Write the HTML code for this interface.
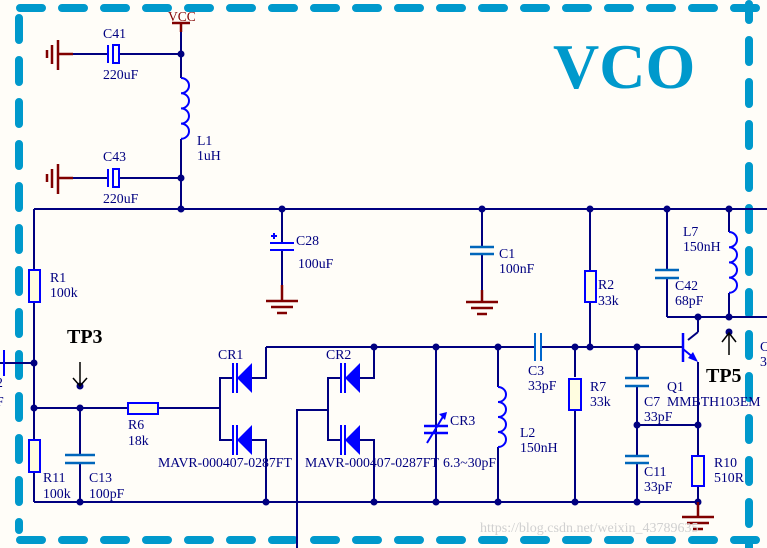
<!DOCTYPE html>
<html><head><meta charset="utf-8"><style>
html,body{margin:0;padding:0;background:#fffdf8;}
svg{display:block;}
text{font-family:"Liberation Serif",serif;}
</style></head><body>
<svg width="767" height="548" viewBox="0 0 767 548" xmlns="http://www.w3.org/2000/svg">
<rect width="767" height="548" fill="#fffdf8"/>
<g stroke="#0099cc" stroke-width="8" stroke-linecap="round" fill="none" stroke-dasharray="22 20">
<line x1="20" y1="8" x2="767" y2="8"/>
<line x1="19" y1="18" x2="19" y2="530"/>
<line x1="20" y1="540" x2="767" y2="540"/>
<line x1="749" y1="4" x2="749" y2="548" stroke-dashoffset="6"/>
</g>
<text x="553" y="88" font-size="64" font-weight="bold" fill="#0099cc">VCO</text>

<g stroke="#000080" stroke-width="2" fill="none">
<line x1="181" y1="30" x2="181" y2="78"/>
<line x1="58" y1="54" x2="108" y2="54"/>
<line x1="118" y1="54" x2="181" y2="54"/>
<line x1="58" y1="178" x2="108" y2="178"/>
<line x1="118" y1="178" x2="181" y2="178"/>
<line x1="181" y1="139" x2="181" y2="209"/>
<line x1="34" y1="209" x2="767" y2="209"/>
<line x1="34" y1="209" x2="34" y2="270"/>
<line x1="34" y1="302" x2="34" y2="440"/>
<line x1="34" y1="472" x2="34" y2="502"/>
<line x1="0" y1="363" x2="34" y2="363"/>
<line x1="34" y1="408" x2="128" y2="408"/>
<line x1="158" y1="408" x2="220" y2="408"/>
<line x1="80" y1="408" x2="80" y2="455"/>
<line x1="80" y1="463" x2="80" y2="502"/>
<line x1="34" y1="502" x2="698" y2="502"/>
<line x1="282" y1="209" x2="282" y2="243"/>
<line x1="282" y1="250" x2="282" y2="300"/>
<line x1="482" y1="209" x2="482" y2="247"/>
<line x1="482" y1="254" x2="482" y2="302"/>
<line x1="590" y1="209" x2="590" y2="347"/>
<line x1="667" y1="209" x2="667" y2="270"/>
<line x1="667" y1="278" x2="667" y2="317"/>
<line x1="729" y1="209" x2="729" y2="232"/>
<line x1="729" y1="293" x2="729" y2="317"/>
<line x1="667" y1="317" x2="767" y2="317"/>
<line x1="698" y1="317" x2="698" y2="332"/>
<line x1="688" y1="340" x2="698" y2="332"/>
<line x1="698" y1="362" x2="698" y2="456"/>
<line x1="698" y1="486" x2="698" y2="502"/>
<line x1="637" y1="425" x2="698" y2="425"/>
<line x1="266" y1="347" x2="534" y2="347"/>
<line x1="541" y1="347" x2="683" y2="347"/>
<line x1="575" y1="347" x2="575" y2="377"/>
<line x1="575" y1="410" x2="575" y2="502"/>
<line x1="637" y1="347" x2="637" y2="378"/>
<line x1="637" y1="386" x2="637" y2="456"/>
<line x1="637" y1="463" x2="637" y2="502"/>
<line x1="436" y1="347" x2="436" y2="502"/>
<line x1="498" y1="347" x2="498" y2="387"/>
<line x1="498" y1="447" x2="498" y2="502"/>
<polyline points="232,378 220,378 220,440 232,440"/>
<polyline points="252,378 266,378 266,347"/>
<polyline points="252,440 266,440 266,502"/>
<polyline points="297,548 297,410 328,410"/>
<polyline points="340,378 328,378 328,440 340,440"/>
<polyline points="360,378 374,378 374,347"/>
<polyline points="360,440 374,440 374,502"/>
</g>

<g fill="#000080">
<circle cx="181" cy="54" r="3.5"/><circle cx="181" cy="178" r="3.5"/><circle cx="181" cy="209" r="3.5"/>
<circle cx="282" cy="209" r="3.5"/><circle cx="482" cy="209" r="3.5"/><circle cx="590" cy="209" r="3.5"/>
<circle cx="667" cy="209" r="3.5"/><circle cx="729" cy="209" r="3.5"/>
<circle cx="698" cy="317" r="3.5"/><circle cx="729" cy="317" r="3.5"/><circle cx="729" cy="332" r="3.5"/>
<circle cx="34" cy="363" r="3.5"/><circle cx="34" cy="408" r="3.5"/><circle cx="80" cy="408" r="3.5"/><circle cx="80" cy="386" r="3.5"/>
<circle cx="80" cy="502" r="3.5"/><circle cx="266" cy="502" r="3.5"/><circle cx="374" cy="502" r="3.5"/>
<circle cx="374" cy="347" r="3.5"/><circle cx="436" cy="347" r="3.5"/><circle cx="498" cy="347" r="3.5"/>
<circle cx="575" cy="347" r="3.5"/><circle cx="590" cy="347" r="3.5"/><circle cx="637" cy="347" r="3.5"/>
<circle cx="436" cy="502" r="3.5"/><circle cx="498" cy="502" r="3.5"/><circle cx="575" cy="502" r="3.5"/>
<circle cx="637" cy="502" r="3.5"/><circle cx="698" cy="502" r="3.5"/><circle cx="637" cy="425" r="3.5"/><circle cx="698" cy="425" r="3.5"/>
</g>

<g stroke="#800000" stroke-width="2.5" fill="none">
<line x1="172" y1="23" x2="190" y2="23"/><line x1="181" y1="23" x2="181" y2="32"/>
<line x1="58" y1="54" x2="73" y2="54"/><line x1="58" y1="40" x2="58" y2="70"/><line x1="52" y1="45" x2="52" y2="64"/><line x1="47" y1="50" x2="47" y2="58"/>
<line x1="58" y1="178" x2="73" y2="178"/><line x1="58" y1="164" x2="58" y2="194"/><line x1="52" y1="169" x2="52" y2="188"/><line x1="47" y1="174" x2="47" y2="182"/>
<line x1="282" y1="285" x2="282" y2="301"/><line x1="266" y1="301" x2="298" y2="301"/><line x1="271" y1="307" x2="293" y2="307"/><line x1="277" y1="313" x2="287" y2="313"/>
<line x1="482" y1="290" x2="482" y2="302"/><line x1="466" y1="302" x2="498" y2="302"/><line x1="471" y1="308" x2="493" y2="308"/><line x1="477" y1="314" x2="487" y2="314"/>
<line x1="698" y1="502" x2="698" y2="517"/><line x1="682" y1="517" x2="714" y2="517"/><line x1="687" y1="523" x2="709" y2="523"/><line x1="693" y1="529" x2="703" y2="529"/>
</g>
<text x="168" y="21" font-size="13.5" fill="#800000">VCC</text>

<g stroke="#0000ff" stroke-width="2" fill="none">
<line x1="108" y1="45" x2="108" y2="63"/><rect x="113" y="45" width="6" height="18"/>
<line x1="108" y1="169" x2="108" y2="187"/><rect x="113" y="169" width="6" height="18"/>
<path d="M181,78 a8,7.6 0 0 1 0,15.2 a8,7.6 0 0 1 0,15.2 a8,7.6 0 0 1 0,15.2 a8,7.6 0 0 1 0,15.2"/>
<path d="M729,232 a8,7.6 0 0 1 0,15.2 a8,7.6 0 0 1 0,15.2 a8,7.6 0 0 1 0,15.2 a8,7.6 0 0 1 0,15.2"/>
<path d="M498,387 a8,7.5 0 0 1 0,15 a8,7.5 0 0 1 0,15 a8,7.5 0 0 1 0,15 a8,7.5 0 0 1 0,15"/>
<line x1="270" y1="243" x2="294" y2="243"/><line x1="270" y1="250" x2="294" y2="250"/>
<line x1="271" y1="236" x2="277" y2="236"/><line x1="274" y1="233" x2="274" y2="239"/>
<rect x="29" y="270" width="11" height="32" fill="#fffde0"/>
<rect x="29" y="440" width="11" height="32" fill="#fffde0"/>
<rect x="128" y="403" width="30" height="11" fill="#fffde0"/>
<rect x="585" y="271" width="11" height="31" fill="#fffde0"/>
<rect x="569" y="379" width="12" height="31" fill="#fffde0"/>
<rect x="692" y="456" width="12" height="30" fill="#fffde0"/>
<line x1="535" y1="333" x2="535" y2="361" stroke="#0066cc"/><line x1="541" y1="333" x2="541" y2="361" stroke="#0066cc"/>
<line x1="683" y1="333" x2="683" y2="362" stroke-width="2.5"/>
<line x1="683" y1="349" x2="694" y2="358"/>
<line x1="233" y1="363" x2="233" y2="393"/><line x1="237" y1="363" x2="237" y2="393"/>
<line x1="233" y1="425" x2="233" y2="455"/><line x1="237" y1="425" x2="237" y2="455"/>
<line x1="341" y1="363" x2="341" y2="393"/><line x1="345" y1="363" x2="345" y2="393"/>
<line x1="341" y1="425" x2="341" y2="455"/><line x1="345" y1="425" x2="345" y2="455"/>
</g>
<g stroke="#0066bb" stroke-width="2.5">
<line x1="470" y1="247" x2="494" y2="247"/><line x1="470" y1="254" x2="494" y2="254"/>
<line x1="655" y1="270" x2="679" y2="270"/><line x1="655" y1="278" x2="679" y2="278"/>
<line x1="625" y1="378" x2="649" y2="378"/><line x1="625" y1="386" x2="649" y2="386"/>
<line x1="625" y1="456" x2="649" y2="456"/><line x1="625" y1="463" x2="649" y2="463"/>
<line x1="65" y1="455" x2="95" y2="455"/><line x1="65" y1="463" x2="95" y2="463"/>
</g>
<g stroke="#0000ff" stroke-width="2.5">
<line x1="424" y1="426" x2="448" y2="426"/><line x1="424" y1="433" x2="448" y2="433"/>
<line x1="427" y1="443" x2="444" y2="415" stroke-width="2"/>
</g>
<g fill="#0000ff">
<polygon points="447,412 439,414 445,420"/>
<polygon points="237,378 252,363 252,393"/><polygon points="237,440 252,425 252,455"/>
<polygon points="345,378 360,363 360,393"/><polygon points="345,440 360,425 360,455"/>
<polygon points="698,362 688,358 693,352"/>
</g>
<g stroke="#000" stroke-width="1.5" fill="none">
<line x1="80" y1="362" x2="80" y2="386"/><polyline points="73,378 80,386 87,378"/>
<line x1="729" y1="355" x2="729" y2="333"/><polyline points="722,342 729,333 736,342"/>
</g>
<text x="67" y="343" font-size="20" font-weight="bold" fill="#000">TP3</text>
<text x="706" y="382" font-size="20" font-weight="bold" fill="#000">TP5</text>

<g font-size="13.8" fill="#000080">
<text x="103" y="38">C41</text><text x="103" y="79">220uF</text>
<text x="103" y="161">C43</text><text x="103" y="203">220uF</text>
<text x="197" y="145">L1</text><text x="197" y="160">1uH</text>
<text x="296" y="245">C28</text><text x="298" y="268">100uF</text>
<text x="499" y="258">C1</text><text x="499" y="273">100nF</text>
<text x="598" y="289">R2</text><text x="598" y="305">33k</text>
<text x="683" y="236">L7</text><text x="683" y="251">150nH</text>
<text x="675" y="290">C42</text><text x="675" y="305">68pF</text>
<text x="50" y="282">R1</text><text x="50" y="297">100k</text>
<text x="128" y="429">R6</text><text x="128" y="445">18k</text>
<text x="218" y="359">CR1</text><text x="326" y="359">CR2</text>
<text x="158" y="467">MAVR-000407-0287FT</text>
<text x="305" y="467">MAVR-000407-0287FT</text>
<text x="450" y="425">CR3</text><text x="443" y="467">6.3~30pF</text>
<text x="520" y="437">L2</text><text x="520" y="452">150nH</text>
<text x="528" y="375">C3</text><text x="528" y="390">33pF</text>
<text x="590" y="391">R7</text><text x="590" y="406">33k</text>
<text x="644" y="406">C7</text><text x="644" y="421">33pF</text>
<text x="667" y="391">Q1</text><text x="667" y="406">MMBTH103EM</text>
<text x="644" y="476">C11</text><text x="644" y="491">33pF</text>
<text x="714" y="467">R10</text><text x="714" y="482">510R</text>
<text x="43" y="482">R11</text><text x="43" y="498">100k</text>
<text x="89" y="482">C13</text><text x="89" y="498">100pF</text>
<text x="-4" y="387">2</text><text x="-4" y="406">F</text>
<text x="760" y="351">C</text><text x="760" y="366">3</text>
</g>
<line x1="4" y1="350" x2="4" y2="376" stroke="#0000ff" stroke-width="2"/>
<text x="480" y="532" font-size="14" fill="#d0d0d0" font-family="Liberation Sans,sans-serif">https://blog.csdn.net/weixin_43789635</text>
</svg>
</body></html>
